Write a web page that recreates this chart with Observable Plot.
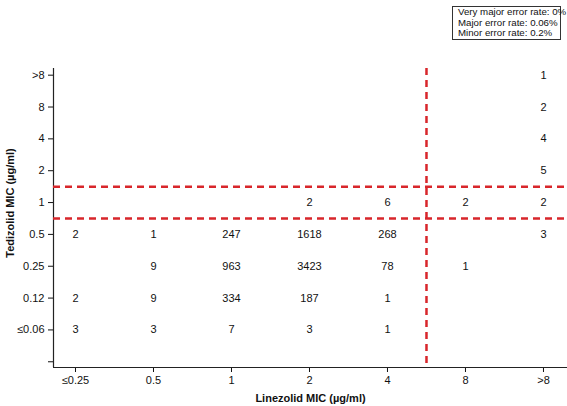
<!DOCTYPE html>
<html>
<head>
<meta charset="utf-8">
<script src="https://cdn.jsdelivr.net/npm/d3@7"></script>
<script src="https://cdn.jsdelivr.net/npm/@observablehq/plot@0.6"></script>
<style>
  html, body { margin: 0; padding: 0; background: #fff; }
  #wrap { position: relative; width: 567px; height: 406px; }
  #legend {
    position: absolute; left: 452px; top: 6px; width: 109px; height: 34px;
    border: 1px solid #333; background: #fff;
    font-family: "Liberation Sans", Arial, sans-serif; font-size: 9.7px; line-height: 10.7px;
    color: #111; padding: 0 0 0 5px; box-sizing: border-box; white-space: nowrap;
  }
</style>
</head>
<body>
<div id="wrap"><div id="legend"></div></div>
<script>
// Categories
const linezolidMIC = ["≤0.25", "0.5", "1", "2", "4", "8", ">8"];
const tedizolidMIC = ["≤0.06", "0.12", "0.25", "0.5", "1", "2", "4", "8", ">8"];

// Counts per tedizolid row, aligned to linezolidMIC columns
const countsTed006 = [3, 3, 7, 3, 1, null, null];
const countsTed012 = [2, 9, 334, 187, 1, null, null];
const countsTed025 = [null, 9, 963, 3423, 78, 1, null];
const countsTed05  = [2, 1, 247, 1618, 268, null, 3];
const countsTed1   = [null, null, null, 2, 6, 2, 2];
const countsTed2   = [null, null, null, null, null, null, 5];
const countsTed4   = [null, null, null, null, null, null, 4];
const countsTed8   = [null, null, null, null, null, null, 2];
const countsTedGt8 = [null, null, null, null, null, null, 1];

// Breakpoints: line drawn just after these categories
const linezolidBreakAfter = ["4"];
const tedizolidBreakAfter = ["0.5", "1"];

// Error rates
const errorRates = ["Very major error rate: 0%", "Major error rate: 0.06%", "Minor error rate: 0.2%"];

const xTitle = "Linezolid MIC (µg/ml)";
const yTitle = "Tedizolid MIC (µg/ml)";

const rows = [countsTed006, countsTed012, countsTed025, countsTed05, countsTed1,
              countsTed2, countsTed4, countsTed8, countsTedGt8];
const cells = [];
rows.forEach((row, j) => row.forEach((v, i) => {
  if (v != null) cells.push({lin: linezolidMIC[i], ted: tedizolidMIC[j], n: v});
}));
const xi = c => linezolidMIC.indexOf(c);
const yi = c => tedizolidMIC.indexOf(c);

const xDomain = [-0.282, linezolidMIC.length - 1 + 0.308];
const yDomain = [-1.18, tedizolidMIC.length - 1 + 0.21];
const red = "#d8262b";
const font = "'Liberation Sans', Arial, sans-serif";

const chart = Plot.plot({
  width: 567,
  height: 406,
  marginLeft: 53,
  marginRight: 0,
  marginTop: 68,
  marginBottom: 39,
  style: {fontFamily: font, fontSize: "11px", color: "#111", background: "#fff"},
  x: {domain: xDomain, label: null},
  y: {domain: yDomain, label: null},
  marks: [
    Plot.axisX({ticks: d3.range(linezolidMIC.length), tickFormat: i => linezolidMIC[i],
                tickSize: 5, tickPadding: 4, label: null, fontSize: 11}),
    Plot.axisY({ticks: d3.range(-1, tedizolidMIC.length), tickFormat: j => j < 0 ? "" : tedizolidMIC[j],
                tickSize: 5, tickPadding: 4, label: null, fontSize: 11}),
    Plot.ruleX([xDomain[0]], {stroke: "#222", strokeWidth: 1.2}),
    Plot.ruleY([yDomain[0]], {stroke: "#222", strokeWidth: 1.2}),
    Plot.ruleX(linezolidBreakAfter, {x: d => xi(d) + 0.5, stroke: red, strokeWidth: 2.5, strokeDasharray: "7,5"}),
    Plot.ruleY(tedizolidBreakAfter, {y: d => yi(d) + 0.5, stroke: red, strokeWidth: 2.5, strokeDasharray: "7,5"}),
    Plot.text(cells, {x: d => xi(d.lin), y: d => yi(d.ted), text: d => String(d.n), fontSize: 11, fill: "#111"}),
    Plot.text([xTitle], {frameAnchor: "bottom", lineAnchor: "middle", textAnchor: "middle", dy: 31,
                         fontWeight: "bold", fontSize: 11, fill: "#111"}),
    Plot.text([yTitle], {frameAnchor: "left", lineAnchor: "middle", textAnchor: "middle", dx: -43, dy: -15,
                         rotate: -90, fontWeight: "bold", fontSize: 11, fill: "#111"})
  ]
});
document.getElementById("wrap").prepend(chart);
document.getElementById("legend").innerHTML = errorRates.map(t => `<div>${t}</div>`).join("");
</script>
</body>
</html>
